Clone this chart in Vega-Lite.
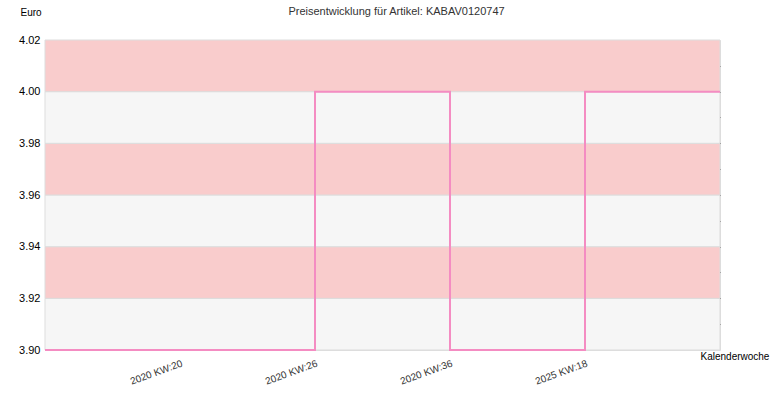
{
  "$schema": "https://vega.github.io/schema/vega-lite/v6.json",
  "width": 675,
  "height": 310,
  "autosize": {"type": "none"},
  "padding": {"left": 45, "top": 40, "right": 50, "bottom": 50},
  "title": {
    "text": "Preisentwicklung für Artikel: KABAV0120747",
    "fontSize": 11,
    "fontWeight": "normal",
    "color": "#333333",
    "offset": -10,
    "dx": 14
  },
  "datasets": {
    "bands": [
      {"lo": 3.90, "hi": 3.92, "band": "hell"},
      {"lo": 3.92, "hi": 3.94, "band": "rosa"},
      {"lo": 3.94, "hi": 3.96, "band": "hell"},
      {"lo": 3.96, "hi": 3.98, "band": "rosa"},
      {"lo": 3.98, "hi": 4.00, "band": "hell"},
      {"lo": 4.00, "hi": 4.02, "band": "rosa"}
    ],
    "preise": [
      {"pos": 0, "kw": "", "preis": 3.90},
      {"pos": 1, "kw": "2020 KW:20", "preis": 3.90},
      {"pos": 2, "kw": "2020 KW:26", "preis": 4.00},
      {"pos": 3, "kw": "2020 KW:36", "preis": 3.90},
      {"pos": 4, "kw": "2025 KW:18", "preis": 4.00},
      {"pos": 5, "kw": "", "preis": 4.00}
    ]
  },
  "layer": [
    {
      "data": {"name": "bands"},
      "mark": {"type": "rect", "stroke": "#dddddd", "strokeWidth": 1},
      "encoding": {
        "y": {
          "field": "lo",
          "type": "quantitative",
          "scale": {"domain": [3.90, 4.02], "nice": false, "zero": false},
          "axis": {
            "title": "Euro",
            "titleAngle": 0,
            "titleAlign": "left",
            "titleBaseline": "middle",
            "titleX": -25,
            "titleY": -28,
            "titleFontSize": 10,
            "titleFontWeight": "normal",
            "titleColor": "#000000",
            "values": [3.90, 3.92, 3.94, 3.96, 3.98, 4.00, 4.02],
            "format": ".2f",
            "ticks": false,
            "domain": false,
            "grid": false,
            "labelPadding": 5,
            "labelFontSize": 11,
            "labelColor": "#000000"
          }
        },
        "y2": {"field": "hi"},
        "color": {
          "field": "band",
          "type": "nominal",
          "scale": {"domain": ["hell", "rosa"], "range": ["#f6f6f6", "#f9cccc"]},
          "legend": null
        }
      }
    },
    {
      "data": {"name": "preise"},
      "mark": {"type": "line", "interpolate": "step-after", "color": "#f48cc2", "strokeWidth": 2},
      "encoding": {
        "x": {
          "field": "pos",
          "type": "quantitative",
          "scale": {"domain": [0, 5], "nice": false, "zero": false},
          "axis": {
            "title": "Kalenderwoche",
            "titleAlign": "left",
            "titleBaseline": "middle",
            "titleX": 655,
            "titleY": 6,
            "titleFontSize": 10,
            "titleFontWeight": "normal",
            "titleColor": "#000000",
            "values": [1, 2, 3, 4],
            "labelExpr": "['', '2020 KW:20', '2020 KW:26', '2020 KW:36', '2025 KW:18', ''][datum.value]",
            "labelAngle": -20,
            "labelAlign": "right",
            "labelBaseline": "top",
            "labelPadding": 8,
            "labelFontSize": 10,
            "labelColor": "#333333",
            "ticks": false,
            "domain": false,
            "grid": false
          }
        },
        "y": {
          "field": "preis",
          "type": "quantitative",
          "axis": {
            "orient": "right",
            "title": null,
            "labels": false,
            "domain": false,
            "grid": false,
            "offset": -4,
            "tickSize": 4,
            "tickColor": "#000000",
            "values": [3.91, 3.92, 3.93, 3.94, 3.95, 3.96, 3.97, 3.98, 3.99, 4.00, 4.01]
          }
        }
      }
    }
  ],
  "resolve": {"scale": {"y": "shared"}, "axis": {"y": "independent"}},
  "config": {
    "font": "Liberation Sans",
    "view": {"stroke": "#dddddd", "strokeWidth": 1}
  }
}
